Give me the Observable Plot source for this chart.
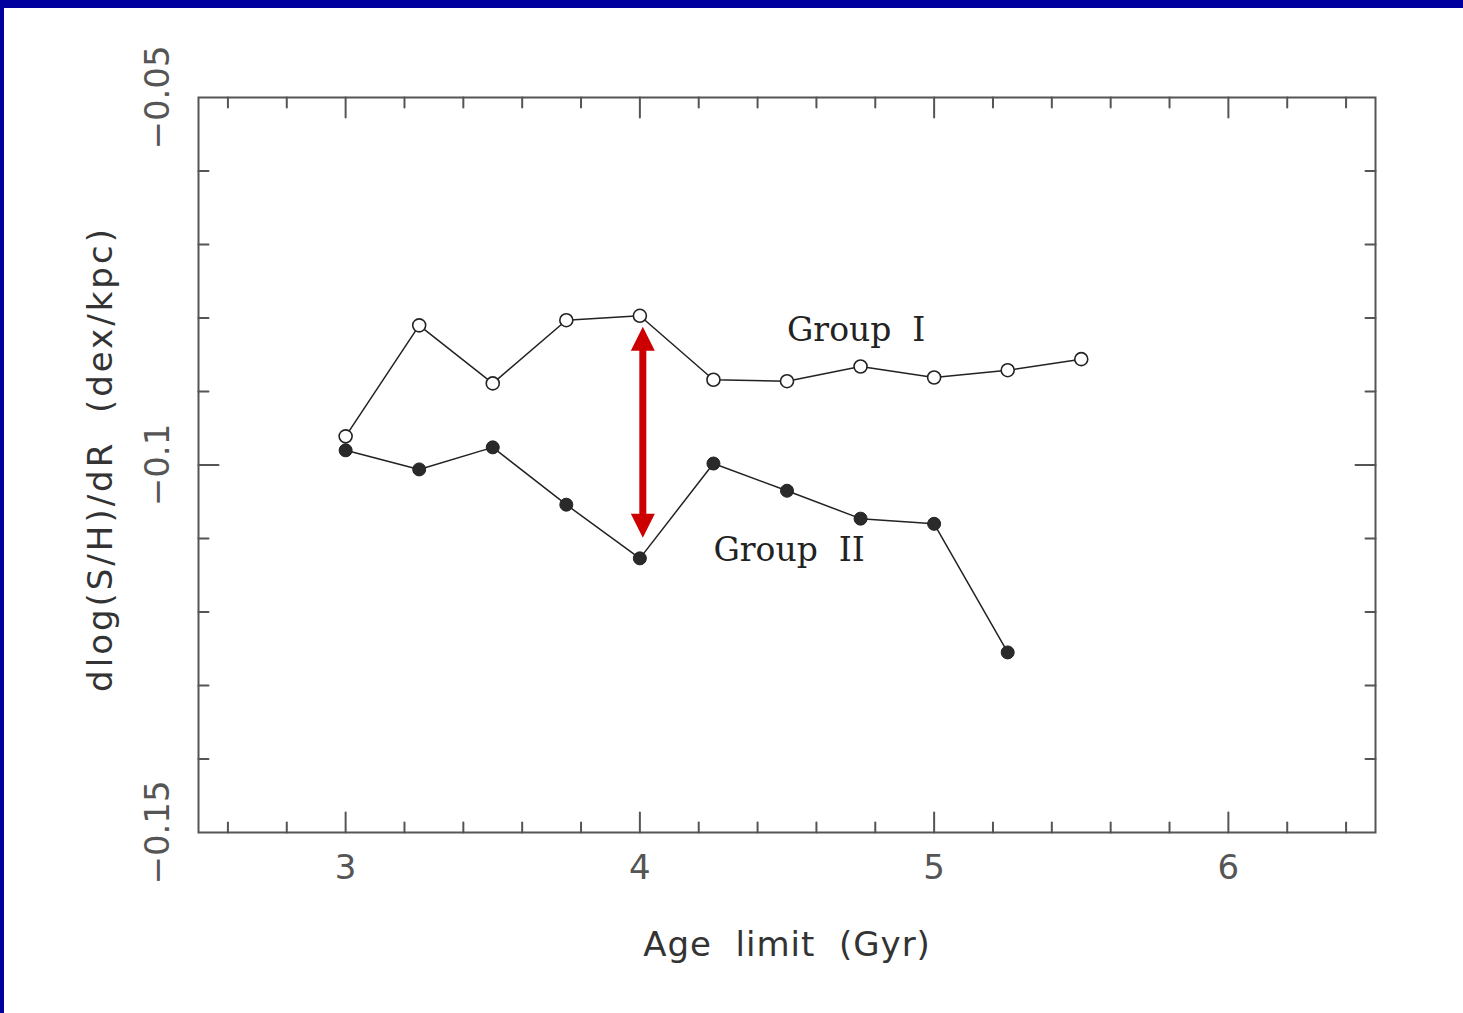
<!DOCTYPE html>
<html>
<head>
<meta charset="utf-8">
<script src="https://cdn.jsdelivr.net/npm/d3@7"></script>
<script src="https://cdn.jsdelivr.net/npm/@observablehq/plot@0.6"></script>
<style>
  html, body { margin: 0; padding: 0; background: #fff; }
  #slide {
    position: absolute; left: 0; top: 0;
    width: 1463px; height: 1013px; box-sizing: border-box;
    border-top: 8px solid #00009f; border-left: 4px solid #00009f;
    background: #fff;
  }
</style>
</head>
<body>
<div id="slide"></div>
<script>
// Radial S/H gradient versus the age limit of the sample
const ageLimits = [3, 3.25, 3.5, 3.75, 4, 4.25, 4.5, 4.75, 5, 5.25, 5.5];
const groupI  = [-0.0961, -0.0810, -0.0889, -0.0803, -0.0797, -0.0884, -0.0886, -0.0866, -0.0881, -0.0871, -0.0856];
const groupII = [-0.0980, -0.1006, -0.0976, -0.1054, -0.1127, -0.0998, -0.1035, -0.1073, -0.1080, -0.1255];

// Axis ranges and tick values
const xDomain = [2.5, 6.5];
const yDomain = [-0.15, -0.05];
const xMajorTicks = [3, 4, 5, 6];
const xMinorTicks = [2.6, 2.8, 3.2, 3.4, 3.6, 3.8, 4.2, 4.4, 4.6, 4.8, 5.2, 5.4, 5.6, 5.8, 6.2, 6.4];
const yMajorTicks = [-0.1];
const yMinorTicks = [-0.14, -0.13, -0.12, -0.11, -0.09, -0.08, -0.07, -0.06];
const yTickLabels = [-0.05, -0.1, -0.15];

// Series labels and the highlighted gap at 4 Gyr
const groupLabels = ["Group\u00a0\u00a0I", "Group\u00a0\u00a0II"];
const groupLabelX = [4.50, 4.25];
const groupLabelY = [-0.0817, -0.1116];
const gapX = 4.01;
const gapTop = -0.0812;
const gapBottom = -0.1099;

const xTitle = "Age\u00a0\u00a0limit\u00a0\u00a0(Gyr)";
const yTitle = "dlog(S/H)/dR\u00a0\u00a0(dex/kpc)";

const rowsI = groupI.map((v, i) => ({age: ageLimits[i], value: v}));
const rowsII = groupII.map((v, i) => ({age: ageLimits[i], value: v}));

// Inward tick marks drawn as short strokes from the frame edge
const tickShape = {draw(ctx, l) { ctx.moveTo(0, 0); ctx.lineTo(0, -l); }};
const edgeTicks = (values, axis, len) => {
  const common = {length: len, shape: tickShape, anchor: "start", stroke: "#555", strokeWidth: 2};
  if (axis === "x") return [
    Plot.vector(values, {...common, x: d => d, y: () => yDomain[0], rotate: 0}),
    Plot.vector(values, {...common, x: d => d, y: () => yDomain[1], rotate: 180})
  ];
  return [
    Plot.vector(values, {...common, y: d => d, x: () => xDomain[0], rotate: 90}),
    Plot.vector(values, {...common, y: d => d, x: () => xDomain[1], rotate: -90})
  ];
};

// Filled double-headed arrow head
const headShape = {draw(ctx, l) { ctx.moveTo(0, -l); ctx.lineTo(-12, 0); ctx.lineTo(12, 0); ctx.closePath(); }};

const fmt = v => String(v).replace("-", "\u2212");

const chart = Plot.plot({
  width: 1459,
  height: 1005,
  marginLeft: 194,
  marginTop: 89,
  marginRight: 88,
  marginBottom: 181,
  style: {fontFamily: "DejaVu Sans", fontSize: "34px", background: "#fff"},
  x: {domain: xDomain},
  y: {domain: yDomain},
  marks: [
    Plot.frame({stroke: "#555", strokeWidth: 2}),
    ...edgeTicks(xMinorTicks, "x", 10),
    ...edgeTicks(xMajorTicks, "x", 20),
    ...edgeTicks(yMinorTicks, "y", 10),
    ...edgeTicks(yMajorTicks, "y", 20),
    Plot.axisX({ticks: xMajorTicks, tickSize: 0, tickPadding: 22, fontSize: 34, fill: "#555", tickFormat: d => String(d), label: null}),
    Plot.axisY({ticks: [], label: null}),
    Plot.text(yTickLabels, {y: d => d, frameAnchor: "left", textAnchor: "middle", lineAnchor: "middle", dx: -40, rotate: -90, text: fmt, fontSize: 34, fill: "#555"}),
    Plot.text([xTitle], {frameAnchor: "bottom", textAnchor: "middle", lineAnchor: "middle", dy: 113, fontSize: 34, fill: "#333"}),
    Plot.text([yTitle], {frameAnchor: "left", textAnchor: "middle", lineAnchor: "middle", dx: -97, dy: -6, rotate: -90, fontSize: 34, fill: "#333"}),
    Plot.line(rowsI, {x: "age", y: "value", stroke: "#222", strokeWidth: 1.5}),
    Plot.line(rowsII, {x: "age", y: "value", stroke: "#222", strokeWidth: 1.5}),
    Plot.dot(rowsI, {x: "age", y: "value", r: 6.5, fill: "#fff", stroke: "#222", strokeWidth: 1.6}),
    Plot.dot(rowsII, {x: "age", y: "value", r: 6.5, fill: "#2a2a2a", stroke: "#222", strokeWidth: 1}),
    Plot.text(groupLabels, {x: (d, i) => groupLabelX[i], y: (d, i) => groupLabelY[i], textAnchor: "start", fontFamily: "DejaVu Serif", fontSize: 33, fill: "#222"}),
    Plot.ruleX([gapX], {y1: gapTop, y2: gapBottom, stroke: "#cc0000", strokeWidth: 7, insetTop: 20, insetBottom: 20}),
    Plot.vector([gapX], {x: d => d, y: () => gapTop, rotate: 0, length: 24, anchor: "end", shape: headShape, fill: "#cc0000", stroke: "none"}),
    Plot.vector([gapX], {x: d => d, y: () => gapBottom, rotate: 180, length: 24, anchor: "end", shape: headShape, fill: "#cc0000", stroke: "none"})
  ]
});

// Wider letter spacing for the axis titles
d3.select(chart).selectAll("text").each(function() {
  if (this.textContent === xTitle) this.setAttribute("letter-spacing", "1");
  if (this.textContent === yTitle) this.setAttribute("letter-spacing", "3");
});

document.getElementById("slide").appendChild(chart);
</script>
</body>
</html>
